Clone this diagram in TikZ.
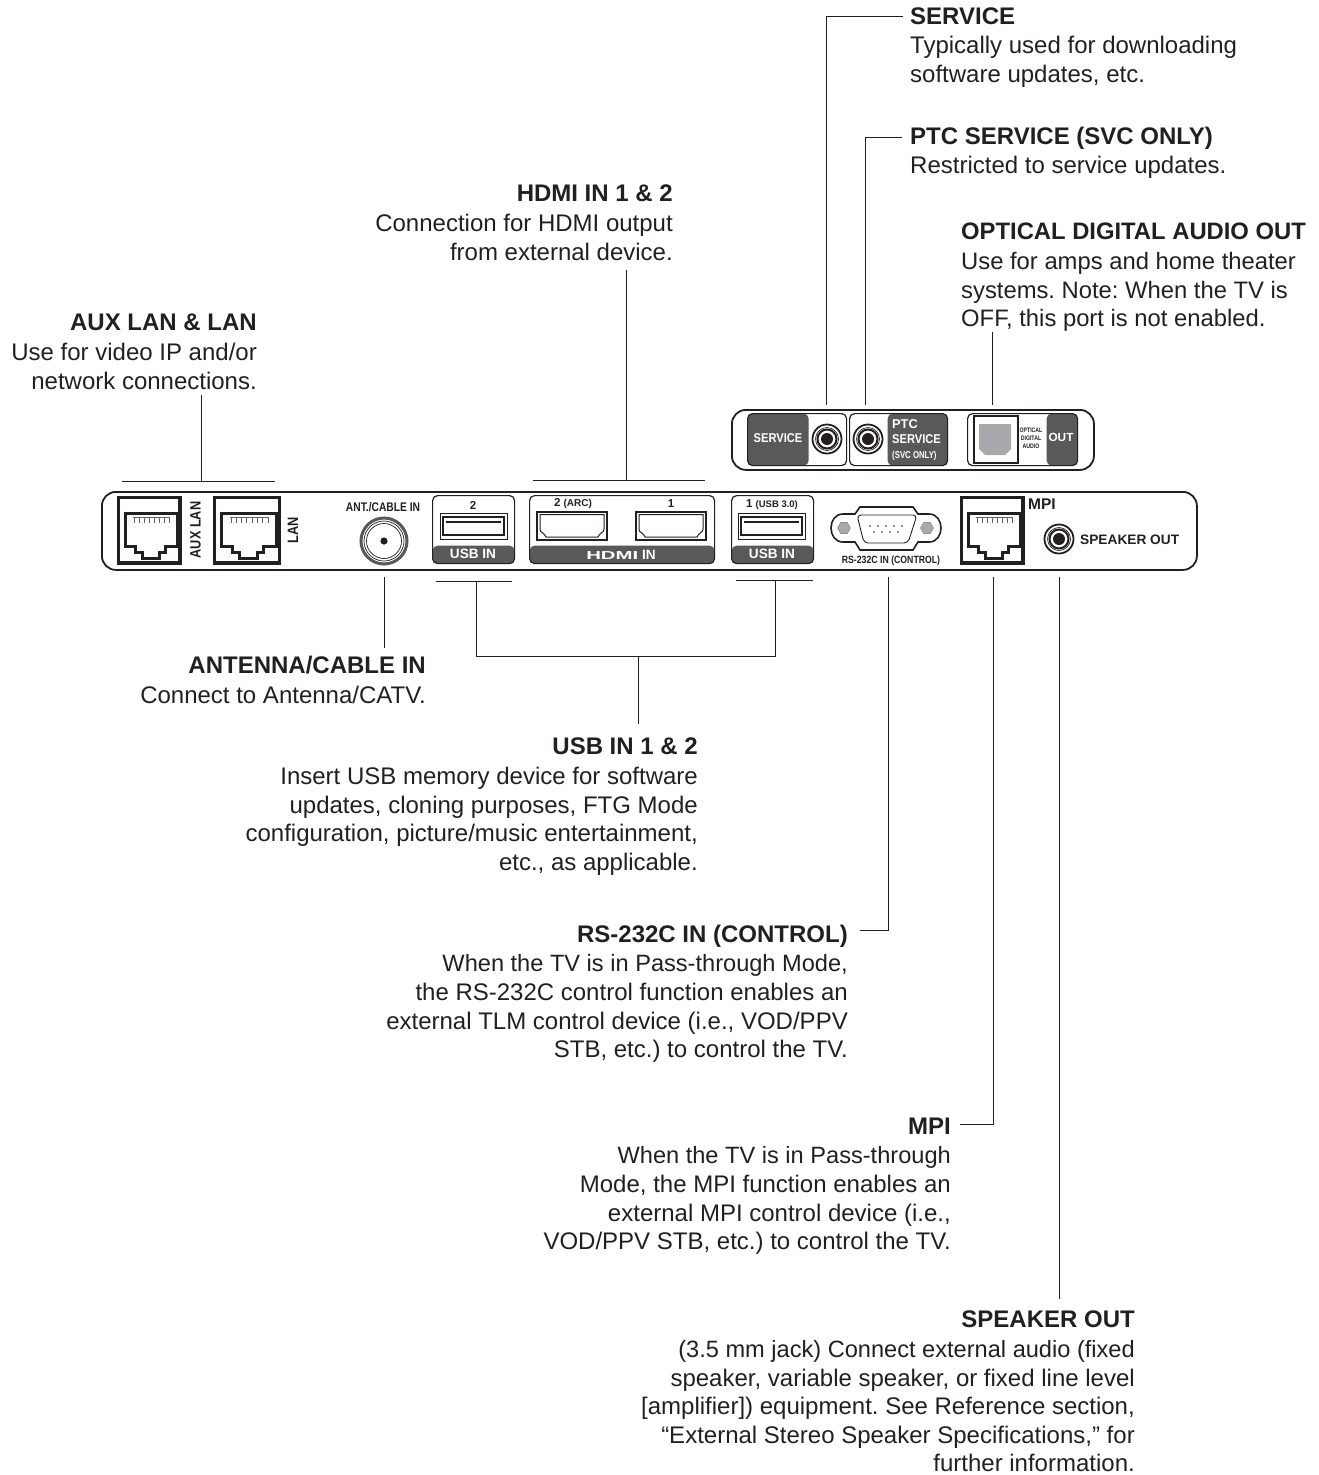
\documentclass[tikz,border=0pt]{standalone}
\usepackage{fontspec}
\setmainfont{Liberation Sans}
\usetikzlibrary{positioning,calc,shapes.geometric}
\definecolor{cInk}{HTML}{231F20}
\definecolor{cStrip}{HTML}{58595B}
\definecolor{cKey}{HTML}{A7A9AC}
\newcommand{\notehead}[1]{\rule{0pt}{18pt}\textbf{#1}\\[1pt]}
\newcommand{\notebody}{\fontsize{23.6}{28.6}\selectfont}
\frenchspacing

\begin{document}
\begin{tikzpicture}[
  x=1pt, y=-1pt,
  every node/.style={inner sep=0pt, text=cInk},
  note/.style={font=\fontsize{24}{28.6}\selectfont, align=right, anchor=north east},
  notel/.style={note, align=left, anchor=north west},
  lead/.style={draw=cInk, line width=1pt},
  panel/.style={draw=cInk, line width=1.8pt, fill=white, rounded corners=14pt, anchor=north west},
  tiny/.style={font=\fontsize{11.5}{12}\bfseries\selectfont},
  onstrip/.style={font=\fontsize{13.6}{15}\bfseries\selectfont, text=white},
  screw/.style={regular polygon, regular polygon sides=6, fill=cKey, draw=cInk!60, line width=.4pt, minimum size=13pt},
  portbox/.style={draw=cInk, line width=1.2pt, rounded corners=5pt, anchor=north west,
    minimum height=68pt, path picture={\fill[cStrip] (path picture bounding box.south west)
      rectangle ([yshift=18pt]path picture bounding box.south east);}},
  sidebox/.style={draw=cInk, line width=1.2pt, rounded corners=5pt, anchor=north west, minimum height=52pt},
  rjack/.pic={
    \draw[cInk, line width=3.4pt] (1.5,1.5) rectangle (63,67);
    \draw[cInk, line width=3pt] (8,17) -- (60,17) -- (60,50) -- (48,50) -- (48,56) -- (42,56)
      -- (42,62) -- (25,62) -- (25,56) -- (18,56) -- (18,50) -- (8,50) -- cycle;
    \draw[cInk!70, line width=.6pt] (16,21) -- (52,21);
    \foreach \pinx in {17,22,27,32,37,42,47,52} \draw[cInk!70, line width=1pt] (\pinx,21) -- (\pinx,27);
  },
  usbport/.pic={
    \draw[cInk, line width=1pt] (0,0) rectangle (67,26);
    \draw[cInk, line width=1.6pt] (3,4) rectangle (64,22);
    \draw[cInk, line width=2.6pt] (6,9) -- (61,9);
  },
  hdmiport/.pic={
    \draw[cInk, line width=2pt, fill=white] (0,0) rectangle (70,28);
    \draw[cInk, line width=1pt] (3,2.5) -- (67,2.5) -- (67,17) .. controls (67,21) and (63,20) .. (61,25)
      -- (9,25) .. controls (7,20) and (3,21) .. (3,17) -- cycle;
  },
  roundjack/.pic={
    \draw[cInk, line width=1.8pt, fill=white] (0,0) circle (14.5);
    \draw[cInk, line width=.7pt] (0,0) circle (11.5);
    \draw[cInk, line width=2pt] (0,0) circle (9.5);
    \fill[cInk] (0,0) circle (6);
  },
  coaxjack/.pic={
    \draw[cInk!75, line width=3pt] (0,0) circle (23);
    \draw[cInk, line width=.7pt] (0,0) circle (20);
    \draw[cInk, line width=.7pt] (0,0) circle (17.5);
    \fill[cInk] (0,0) circle (3.6);
  },
]
  \useasboundingbox (0,0) rectangle (1319,1475);

  % panels
  \node[panel, minimum width=1095pt, minimum height=78pt] (mainpanel) at (101,491) {};
  \node[panel, minimum width=362pt, minimum height=60pt] (sidepanel) at (731,409) {};

  % callouts
  \node[notel] (servicenote) at (910,6) {\notehead{SERVICE}Typically used for downloading\\software updates, etc.};
  \node[notel] (ptcnote) at (910,126) {\notehead{PTC SERVICE (SVC ONLY)}Restricted to service updates.};
  \node[notel, font=\fontsize{23.8}{28.6}\selectfont] (opticalnote) at (961,221.6) {\notehead{OPTICAL DIGITAL AUDIO OUT}Use for amps and home theater\\systems. Note: When the TV is\\OFF, this port is not enabled.};
  \node[note] (hdminote) at (673,183.6) {\notehead{HDMI IN 1 \& 2}Connection for HDMI output\\from external device.};
  \node[note] (lannote) at (257,312.6) {\notehead{AUX LAN \& LAN}Use for video IP and/or\\network connections.};
  \node[note] (antnote) at (426,655.6) {\notehead{ANTENNA/CABLE IN}Connect to Antenna/CATV.};
  \node[note] (usbnote) at (698,736.6) {\notehead{USB IN 1 \& 2}Insert USB memory device for software\\updates, cloning purposes, FTG Mode\\configuration, picture/music entertainment,\\etc., as applicable.};
  \node[note] (rsnote) at (848,924) {\notehead{RS-232C IN (CONTROL)}\notebody When the TV is in Pass-through Mode,\\the RS-232C control function enables an\\external TLM control device (i.e., VOD/PPV\\STB, etc.) to control the TV.};
  \node[note] (mpinote) at (951,1116) {\notehead{MPI}\notebody When the TV is in Pass-through\\Mode, the MPI function enables an\\external MPI control device (i.e.,\\VOD/PPV STB, etc.) to control the TV.};
  \node[note] (speakernote) at (1135,1309.6) {\notehead{SPEAKER OUT}\notebody (3.5 mm jack) Connect external audio (fixed\\speaker, variable speaker, or fixed line level\\{[}amplifier{]}) equipment. See Reference section,\\“External Stereo Speaker Specifications,” for\\further information.};

  % main panel ports
  \pic at (117,496) {rjack};
  \pic[xscale=1.06] at (213,496) {rjack};
  \node[rotate=90, font=\fontsize{15}{16}\bfseries\selectfont] (auxtext) at (195.5,530) {\scalebox{.85}[1]{AUX LAN}};
  \node[rotate=90, font=\fontsize{15}{16}\bfseries\selectfont] (lantext) at (293,530) {\scalebox{.85}[1]{LAN}};
  \node[font=\fontsize{12.5}{14}\bfseries\selectfont] (anttext) at (383,507) {\scalebox{.82}[1]{ANT./CABLE IN}};
  \pic at (384,541) {coaxjack};

  \node[portbox, minimum width=82pt] (usbtwo) at (432,495) {};
  \node[tiny] (usbtwonum) at (473,505) {2};
  \pic at (440,513) {usbport};
  \node[onstrip] (usbtwotext) at (473,554) {USB IN};

  \node[portbox, minimum width=185pt] (hdmibox) at (529,495) {};
  \node[tiny] (hdmitwonum) at (573,504) {2 {\fontsize{10}{12}\selectfont (ARC)}};
  \node[tiny] (hdmionenum) at (671,504) {1};
  \pic at (537,512) {hdmiport};
  \pic at (636,512) {hdmiport};
  \node[onstrip] (hdmitext) at (621,555) {\scalebox{1.5}[.85]{HDMI} IN};

  \node[portbox, minimum width=82pt] (usbone) at (731,495) {};
  \node[tiny] (usbonenum) at (772,505) {1 {\fontsize{9.5}{12}\selectfont (USB 3.0)}};
  \pic at (738,513) {usbport};
  \node[onstrip] (usbonetext) at (772,554) {USB IN};

  \draw[cInk, line width=1.6pt] (860,507) -- (913,507) -- (918,514) -- (929,514)
    .. controls (937,514) and (941,521) .. (941,528) .. controls (941,535) and (937,542) .. (929,542)
    -- (918,542) -- (913,550) -- (860,550) -- (855,542) -- (843,542)
    .. controls (835,542) and (831,535) .. (831,528) .. controls (831,521) and (835,514) .. (843,514)
    -- (855,514) -- cycle;
  \draw[cInk, line width=.9pt, rounded corners=4pt] (857,515) -- (917,515) -- (908,543) -- (864,543) -- cycle;
  \node[screw] (screwleft) at (844,528) {};
  \node[screw] (screwright) at (927,528) {};
  \foreach \pinx in {870,878,886,894,902} \fill[cInk] (\pinx,526) circle (.8);
  \foreach \pinx in {874,882,890,898} \fill[cInk] (\pinx,532) circle (.8);
  \node[font=\fontsize{10.5}{12}\bfseries\selectfont] (rstext) at (891,561) {\scalebox{.83}[1]{RS-232C IN (CONTROL)}};

  \pic at (960,496) {rjack};
  \node[font=\fontsize{15.5}{16}\bfseries\selectfont, anchor=west] (mpitext) at (1028,504) {MPI};
  \pic at (1059,539) {roundjack};
  \node[font=\fontsize{13.7}{15}\bfseries\selectfont, anchor=west] (speakertext) at (1080,540) {SPEAKER OUT};

  % side panel ports
  \node[sidebox, minimum width=99pt, path picture={\fill[cStrip] (path picture bounding box.south west)
    rectangle ([xshift=61pt]path picture bounding box.north west);}] (servicebox) at (747,413) {};
  \node[onstrip, font=\fontsize{12.8}{14}\bfseries\selectfont] (servicetext) at (778,438) {\scalebox{.87}[1]{SERVICE}};
  \pic at (827,439) {roundjack};

  \node[sidebox, minimum width=98pt, path picture={\fill[cStrip] (path picture bounding box.south east)
    rectangle ([xshift=-60pt]path picture bounding box.north east);}] (ptcbox) at (849,413) {};
  \pic at (868,439) {roundjack};
  \node[onstrip, anchor=west, align=left, font=\fontsize{12.8}{15.5}\bfseries\selectfont] (ptctext) at (892,440)
    {PTC\\\scalebox{.87}[1]{SERVICE}\\[-1pt]{\fontsize{10}{12}\selectfont\scalebox{.78}[1]{(SVC ONLY)}}};

  \node[sidebox, minimum width=110pt, path picture={\fill[cStrip] (path picture bounding box.south east)
    rectangle ([xshift=-31pt]path picture bounding box.north east);}] (opticalbox) at (967,413) {};
  \node[draw=cInk, line width=1.6pt, minimum width=44pt, minimum height=47pt, anchor=north west] (keybox) at (973,415) {};
  \fill[cKey] (979,424) -- (1011,424) -- (1011,449) -- (1005,455) -- (985,455) -- (979,449) -- cycle;
  \node[font=\fontsize{6.5}{8}\bfseries\selectfont, align=center] (opticaltext) at (1031,438) {\scalebox{.8}[1]{OPTICAL}\\\scalebox{.8}[1]{DIGITAL}\\\scalebox{.8}[1]{AUDIO}};
  \node[onstrip, font=\fontsize{11.8}{14}\bfseries\selectfont] (outtext) at (1061,437) {OUT};

  % connectors
  \coordinate (serviceport) at (826,405);
  \coordinate (ptcport) at (865,405);
  \coordinate (opticalport) at (992,405);
  \coordinate (antport) at (384,577);
  \coordinate (rsport) at (888,577);
  \coordinate (mpiport) at (993,577);
  \coordinate (speakerport) at (1059,577);

  \draw[lead] (serviceport) |- (903,16);
  \draw[lead] (ptcport) |- (902,137);
  \draw[lead] (opticalport) -- (992,332);
  \draw[lead] (antport) -- (384,648);

  \coordinate (lanleft) at (122,481);
  \coordinate (lanright) at (275,481);
  \draw[lead] (lanleft) -- (lanright);
  \draw[lead] (201,481) -- (201,395);
  \coordinate (hdmileft) at (533,480);
  \coordinate (hdmiright) at (705,480);
  \draw[lead] (hdmileft) -- (hdmiright);
  \draw[lead] (626,480) -- (626,270);

  \coordinate (usbtwoleft) at (436,581);
  \coordinate (usbtworight) at (512,581);
  \coordinate (usboneleft) at (736,580);
  \coordinate (usboneright) at (813,580);
  \draw[lead] (usbtwoleft) -- (usbtworight);
  \draw[lead] (usboneleft) -- (usboneright);
  \draw[lead] (476,581) |- (775,656) -- (775,580);
  \draw[lead] (638,656) -- (638,724);

  \draw[lead] (rsport) |- (860,930);
  \draw[lead] (mpiport) |- (960,1124);
  \draw[lead] (speakerport) -- (1059,1299);
\end{tikzpicture}
\end{document}
